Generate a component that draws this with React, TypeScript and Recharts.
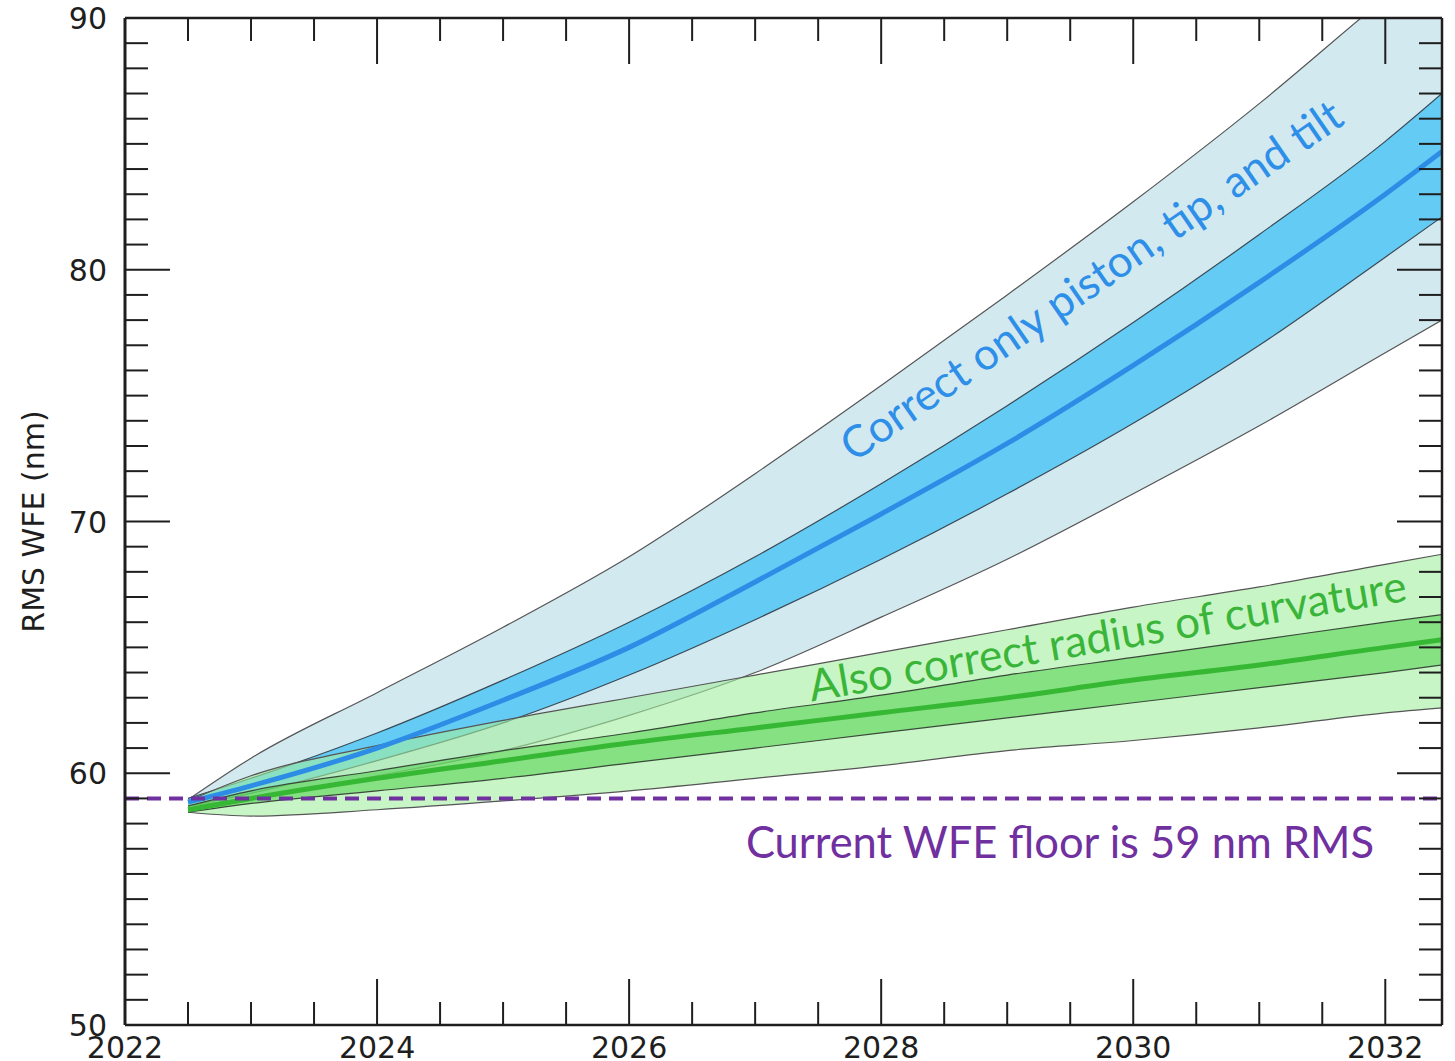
import React from "react";
import { ComposedChart, Area, Line, XAxis, YAxis, ReferenceLine } from "recharts";

// sample years (Monte Carlo ensemble)
const years = [2022.5, 2023, 2024, 2025, 2026, 2027, 2028, 2029, 2030, 2031, 2032, 2032.45];

// "Correct only piston, tip, and tilt"
const blueMedian = [58.85, 59.5, 61.0, 62.9, 65.0, 67.6, 70.3, 73.1, 76.2, 79.5, 83.0, 84.7];
const blueInnerHi = [59.0, 59.8, 61.6, 63.7, 66.0, 68.6, 71.5, 74.6, 77.9, 81.4, 85.1, 87.0];
const blueInnerLo = [58.7, 59.2, 60.5, 62.0, 63.9, 66.1, 68.5, 71.1, 73.9, 77.0, 80.5, 82.1];
const blueOuterHi = [58.95, 60.6, 63.2, 65.8, 68.6, 71.9, 75.4, 79.0, 82.7, 86.6, 90.8, 92.6];
const blueOuterLo = [58.7, 59.0, 59.9, 60.9, 62.3, 64.0, 66.2, 68.5, 71.1, 73.8, 76.7, 78.0];

// "Also correct radius of curvature"
const greenMedian = [58.55, 59.0, 59.8, 60.5, 61.2, 61.8, 62.4, 63.0, 63.7, 64.3, 65.0, 65.3];
const greenInnerHi = [58.7, 59.3, 60.1, 60.9, 61.6, 62.4, 63.1, 63.9, 64.6, 65.3, 66.0, 66.3];
const greenInnerLo = [58.45, 58.8, 59.3, 59.8, 60.4, 61.0, 61.6, 62.2, 62.8, 63.4, 64.0, 64.3];
const greenOuterHi = [58.9, 59.9, 61.1, 62.1, 63.0, 63.9, 64.8, 65.7, 66.6, 67.4, 68.3, 68.7];
const greenOuterLo = [58.45, 58.3, 58.55, 58.9, 59.3, 59.8, 60.3, 60.9, 61.3, 61.8, 62.4, 62.6];

const wfeFloor = 59;

const xDomain = [2022, 2032.45];
const yDomain = [50, 90];
const xMajorTicks = [2022, 2024, 2026, 2028, 2030, 2032];
const yMajorTicks = [50, 60, 70, 80, 90];

const xTicks: number[] = [];
for (let t = 2022; t <= 2032; t += 0.5) xTicks.push(t);
const yTicks: number[] = [];
for (let t = 50; t <= 90; t += 1) yTicks.push(t);

const data = years.map((year, i) => ({
    year,
    blueOuter: [blueOuterLo[i], blueOuterHi[i]],
    blueInner: [blueInnerLo[i], blueInnerHi[i]],
    blueMedian: blueMedian[i],
    greenOuter: [greenOuterLo[i], greenOuterHi[i]],
    greenInner: [greenInnerLo[i], greenInnerHi[i]],
    greenMedian: greenMedian[i],
}))

const AXIS = "#1e1e1e"
const TICK_FONT = "'DejaVu Sans', sans-serif"
const NOTE_FONT = "Lato, 'Open Sans', sans-serif"

function BottomTick({ x, y, payload }: any) {
    const major = xMajorTicks.includes(payload.value)
    return (
        <g>
            <line x1={x} x2={x} y1={y} y2={y - (major ? 46 : 23)} stroke={AXIS} strokeWidth={2} />
            {major && (
                <text x={x} y={y + 33} textAnchor="middle" fontSize={30} fontFamily={TICK_FONT} fill={AXIS}>
                    {payload.value}
                </text>
            )}
        </g>
    )
}

function TopTick({ x, y, payload }: any) {
    const major = xMajorTicks.includes(payload.value)
    return <line x1={x} x2={x} y1={y} y2={y + (major ? 46 : 23)} stroke={AXIS} strokeWidth={2} />
}

function LeftTick({ x, y, payload }: any) {
    const major = yMajorTicks.includes(payload.value)
    return (
        <g>
            <line x1={x} x2={x + (major ? 45 : 23)} y1={y} y2={y} stroke={AXIS} strokeWidth={2} />
            {major && (
                <text x={x - 18} y={y + 11} textAnchor="end" fontSize={30} fontFamily={TICK_FONT} fill={AXIS}>
                    {payload.value}
                </text>
            )}
        </g>
    )
}

function RightTick({ x, y, payload }: any) {
    const major = yMajorTicks.includes(payload.value)
    return <line x1={x} x2={x - (major ? 45 : 23)} y1={y} y2={y} stroke={AXIS} strokeWidth={2} />
}

export default function App() {
    return (
        <div style={{ position: "absolute", left: 0, top: 0, width: 1455, height: 1061, background: "#fff" }}>
            <ComposedChart
                width={1455}
                height={1061}
                data={data}
                margin={{ top: 17, right: 12, bottom: 0, left: 0 }}
            >
                <XAxis
                    xAxisId="b"
                    dataKey="year"
                    type="number"
                    domain={xDomain}
                    allowDataOverflow
                    ticks={xTicks}
                    interval={0}
                    height={36}
                    tickSize={0}
                    tickMargin={0}
                    tickLine={false}
                    axisLine={{ stroke: AXIS, strokeWidth: 2.5 }}
                    tick={<BottomTick />}
                />
                <XAxis
                    xAxisId="t"
                    orientation="top"
                    dataKey="year"
                    type="number"
                    domain={xDomain}
                    allowDataOverflow
                    ticks={xTicks}
                    interval={0}
                    height={1}
                    tickSize={0}
                    tickMargin={0}
                    tickLine={false}
                    axisLine={{ stroke: AXIS, strokeWidth: 2.5 }}
                    tick={<TopTick />}
                />
                <YAxis
                    yAxisId="l"
                    type="number"
                    domain={yDomain}
                    allowDataOverflow
                    ticks={yTicks}
                    interval={0}
                    width={125}
                    tickSize={0}
                    tickMargin={0}
                    tickLine={false}
                    axisLine={{ stroke: AXIS, strokeWidth: 3 }}
                    tick={<LeftTick />}
                    label={{
                        value: "RMS WFE (nm)",
                        angle: -90,
                        position: "insideLeft",
                        offset: 33,
                        style: { fontSize: 30, fontFamily: TICK_FONT, fill: AXIS, textAnchor: "middle" },
                    }}
                />
                <YAxis
                    yAxisId="r"
                    orientation="right"
                    type="number"
                    domain={yDomain}
                    allowDataOverflow
                    ticks={yTicks}
                    interval={0}
                    width={1}
                    tickSize={0}
                    tickMargin={0}
                    tickLine={false}
                    axisLine={{ stroke: AXIS, strokeWidth: 2.5 }}
                    tick={<RightTick />}
                />

                <Area xAxisId="b" yAxisId="l" type="monotone" dataKey="blueOuter" fill="#d3e9f0" fillOpacity={1}
                    stroke="#555" strokeWidth={1.2} isAnimationActive={false} dot={false} activeDot={false} />
                <Area xAxisId="b" yAxisId="l" type="monotone" dataKey="blueInner" fill="#64ccf4" fillOpacity={1}
                    stroke="#3a4a55" strokeWidth={1.2} isAnimationActive={false} dot={false} activeDot={false} />
                <Line xAxisId="b" yAxisId="l" type="monotone" dataKey="blueMedian" stroke="#2d8de6" strokeWidth={5}
                    dot={false} activeDot={false} isAnimationActive={false} />

                <Area xAxisId="b" yAxisId="l" type="monotone" dataKey="greenOuter" fill="#a3ee9f" fillOpacity={0.6}
                    stroke="#555" strokeWidth={1.2} isAnimationActive={false} dot={false} activeDot={false} />
                <Area xAxisId="b" yAxisId="l" type="monotone" dataKey="greenInner" fill="#4fcf4b" fillOpacity={0.55}
                    stroke="#3a4a3a" strokeWidth={1.2} isAnimationActive={false} dot={false} activeDot={false} />
                <Line xAxisId="b" yAxisId="l" type="monotone" dataKey="greenMedian" stroke="#37b834" strokeWidth={5}
                    dot={false} activeDot={false} isAnimationActive={false} />

                {/* hidden series so the mirrored top/right axes share the plot scales */}
                <Line xAxisId="t" yAxisId="r" dataKey="greenMedian" stroke="none" dot={false} activeDot={false}
                    legendType="none" isAnimationActive={false} />

                <ReferenceLine xAxisId="b" yAxisId="l" y={wfeFloor} stroke="#7030a0" strokeWidth={4}
                    strokeDasharray="14 8" ifOverflow="hidden" />
            </ComposedChart>

            <svg width={1455} height={1061} style={{ position: "absolute", left: 0, top: 0, pointerEvents: "none" }}>
                <text x={1100} y={293} transform="rotate(-34.6 1100 293)" textAnchor="middle"
                    fontSize={44} fontFamily={NOTE_FONT} fill="#2e8fe8">
                    Correct only piston, tip, and tilt
                </text>
                <text x={1110} y={651} transform="rotate(-9.6 1110 651)" textAnchor="middle"
                    fontSize={44} fontFamily={NOTE_FONT} fill="#3ab53a">
                    Also correct radius of curvature
                </text>
                <text x={1060} y={858} textAnchor="middle" fontSize={43.5} fontFamily={NOTE_FONT} fill="#7030a0">
                    Current WFE floor is 59 nm RMS
                </text>
            </svg>
        </div>
    )
}
